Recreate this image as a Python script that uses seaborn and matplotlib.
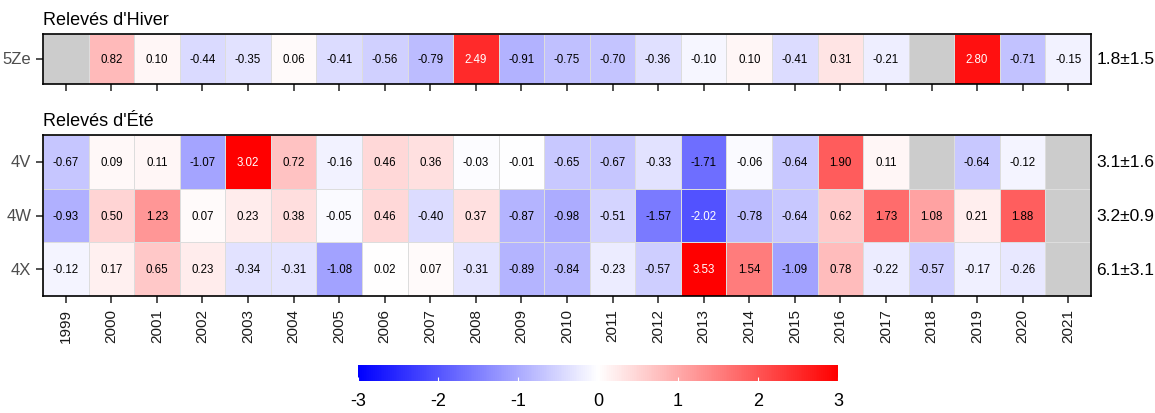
import numpy as np
import pandas as pd
import seaborn as sns
import matplotlib.pyplot as plt
from matplotlib.colors import LinearSegmentedColormap

years = [str(y) for y in range(1999, 2022)]

#winter values
hiver_5Ze = [np.nan, 0.82, 0.10, -0.44, -0.35, 0.06, -0.41, -0.56, -0.79, 2.49, -0.91, -0.75,
             -0.70, -0.36, -0.10, 0.10, -0.41, 0.31, -0.21, np.nan, 2.80, -0.71, -0.15]
#summer values
ete_4V = [-0.67, 0.09, 0.11, -1.07, 3.02, 0.72, -0.16, 0.46, 0.36, -0.03, -0.01, -0.65,
          -0.67, -0.33, -1.71, -0.06, -0.64, 1.90, 0.11, np.nan, -0.64, -0.12, np.nan]
ete_4W = [-0.93, 0.50, 1.23, 0.07, 0.23, 0.38, -0.05, 0.46, -0.40, 0.37, -0.87, -0.98,
          -0.51, -1.57, -2.02, -0.78, -0.64, 0.62, 1.73, 1.08, 0.21, 1.88, np.nan]
ete_4X = [-0.12, 0.17, 0.65, 0.23, -0.34, -0.31, -1.08, 0.02, 0.07, -0.31, -0.89, -0.84,
          -0.23, -0.57, 3.53, 1.54, -1.09, 0.78, -0.22, -0.57, -0.17, -0.26, np.nan]

hiver_rows = ['5Ze']
ete_rows = ['4V', '4W', '4X']
hiver_side = ['1.8±1.5']
ete_side = ['3.1±1.6', '3.2±0.9', '6.1±3.1']

hiver = pd.DataFrame([hiver_5Ze], index=hiver_rows, columns=years)
ete = pd.DataFrame([ete_4V, ete_4W, ete_4X], index=ete_rows, columns=years)

plt.rcParams['font.family'] = ['Liberation Sans', 'DejaVu Sans']
plt.rcParams['axes.unicode_minus'] = False

cmap = LinearSegmentedColormap.from_list('bwr2', ['#0000FF', '#FFFFFF', '#FF0000'])

fig = plt.figure(figsize=(11.55, 4.14), dpi=100)
ax1 = fig.add_axes([0.0372, 0.7947, 0.9074, 0.1208])
ax2 = fig.add_axes([0.0372, 0.2826, 0.9074, 0.3889])
cax = fig.add_axes([0.31, 0.0773, 0.4156, 0.0386])


def draw(ax, df, side, title, show_x):
    ax.set_facecolor('#CCCCCC')
    sns.heatmap(df, ax=ax, cmap=cmap, vmin=-3, vmax=3, annot=True, fmt='.2f',
                annot_kws={'size': 8.3}, linewidths=0.5, linecolor='#DDDDDD',
                cbar=False)
    # white text on the strong cells
    for t, v in zip(ax.texts, df.values[~np.isnan(df.values)]):
        t.set_color('white' if abs(v) >= 2 else 'black')
    for s in ax.spines.values():
        s.set_visible(True)
        s.set_color('black')
        s.set_linewidth(1.2)
    ax.set_xlabel('')
    ax.set_ylabel('')
    ax.tick_params(axis='both', length=5, width=1.2, color='#333333', labelcolor='#4D4D4D')
    ax.set_yticklabels(df.index, rotation=0, fontsize=12)
    if show_x:
        ax.set_xticklabels(df.columns, rotation=90, fontsize=11, color='#1A1A1A')
    else:
        ax.set_xticklabels([])
    ax.set_title(title, loc='left', fontsize=13, pad=7)
    for i, s in enumerate(side):
        ax.text(1.005, 1 - (i + 0.5) / len(side), s, transform=ax.transAxes,
                ha='left', va='center', fontsize=12.5)


draw(ax1, hiver, hiver_side, "Relevés d'Hiver", False)
draw(ax2, ete, ete_side, "Relevés d'Été", True)

sm = plt.cm.ScalarMappable(cmap=cmap, norm=plt.Normalize(-3, 3))
cb = fig.colorbar(sm, cax=cax, orientation='horizontal')
cb.outline.set_visible(False)
cb.set_ticks([-3, -2, -1, 0, 1, 2, 3])
cax.tick_params(axis='x', direction='in', color='white', length=3, labelsize=13, pad=8)

plt.savefig('out.png', dpi=100)
